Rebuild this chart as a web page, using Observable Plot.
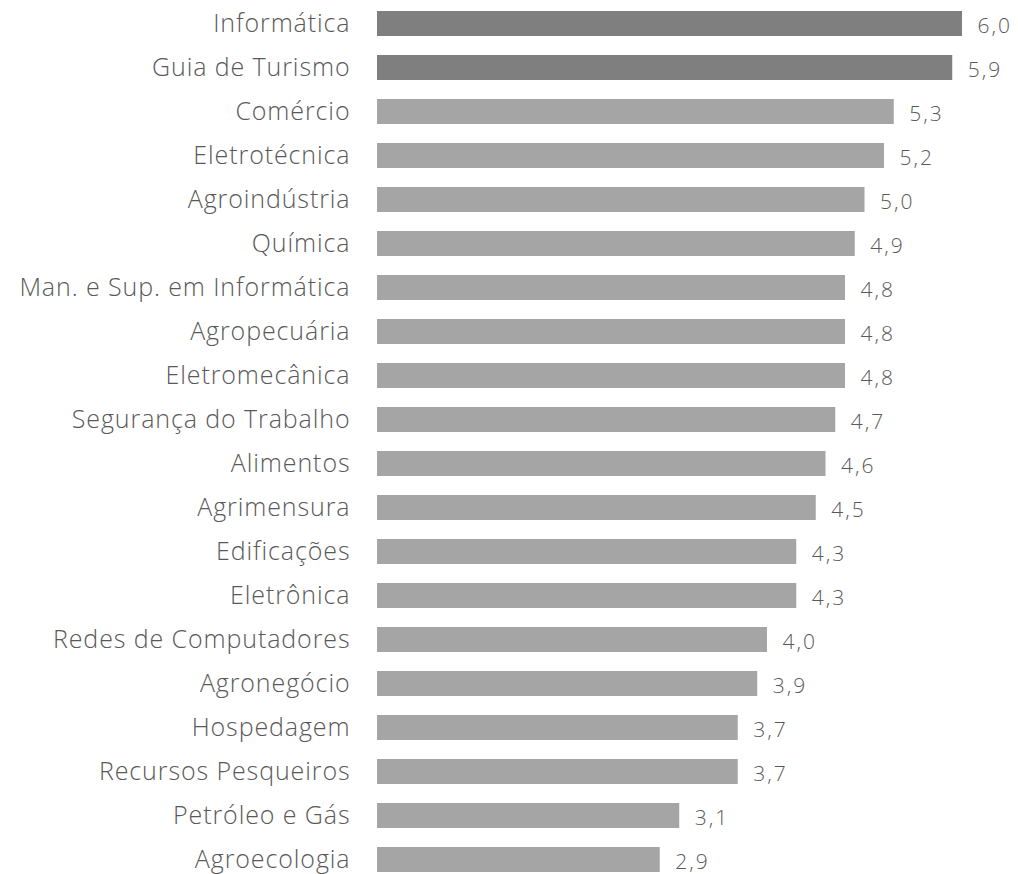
<!DOCTYPE html>
<html>
<head>
<meta charset="utf-8">
<script src="https://cdn.jsdelivr.net/npm/d3@7"></script>
<script src="https://cdn.jsdelivr.net/npm/@observablehq/plot@0.6"></script>
<style>
  html, body { margin: 0; padding: 0; background: #fff; }
  #chart { width: 1018px; height: 874px; }
  .cat-axis text { letter-spacing: 0.9px; }
  .val-labels text { letter-spacing: 2px; }
</style>
</head>
<body>
<div id="chart"></div>
<script>
const categories = [
  "Informática", "Guia de Turismo", "Comércio", "Eletrotécnica", "Agroindústria",
  "Química", "Man. e Sup. em Informática", "Agropecuária", "Eletromecânica",
  "Segurança do Trabalho", "Alimentos", "Agrimensura", "Edificações", "Eletrônica",
  "Redes de Computadores", "Agronegócio", "Hospedagem", "Recursos Pesqueiros",
  "Petróleo e Gás", "Agroecologia"
];
const values = [6.0, 5.9, 5.3, 5.2, 5.0, 4.9, 4.8, 4.8, 4.8, 4.7, 4.6, 4.5, 4.3, 4.3, 4.0, 3.9, 3.7, 3.7, 3.1, 2.9];
const highlighted = ["Informática", "Guia de Turismo"];

const data = categories.map((c, i) => ({
  category: c,
  value: values[i],
  hi: highlighted.includes(c)
}));

const fmt = v => v.toFixed(1).replace(".", ",");

const chart = Plot.plot({
  width: 1018,
  height: 874,
  marginLeft: 377,
  marginRight: 56,
  marginTop: 11,
  marginBottom: 1,
  style: { fontFamily: "'Open Sans', sans-serif", fontWeight: 300, background: "#fff" },
  x: { domain: [0, 6], axis: null },
  y: { domain: categories, paddingInner: 0.43, paddingOuter: 0, label: null },
  marks: [
    Plot.barX(data, {
      x: "value",
      y: "category",
      fill: d => d.hi ? "#7f7f7f" : "#a5a5a5"
    }),
    Plot.text(data, {
      x: "value",
      y: "category",
      text: d => fmt(d.value),
      textAnchor: "start",
      dx: 15,
      dy: 2,
      fontSize: 21,
      fontWeight: 300,
      fill: "#595959",
      className: "val-labels"
    }),
    Plot.axisY({
      tickSize: 0,
      tickPadding: 27,
      fontSize: 25,
      fontWeight: 300,
      fill: "#595959",
      label: null,
      className: "cat-axis"
    })
  ]
});

document.getElementById("chart").appendChild(chart);
</script>
</body>
</html>
